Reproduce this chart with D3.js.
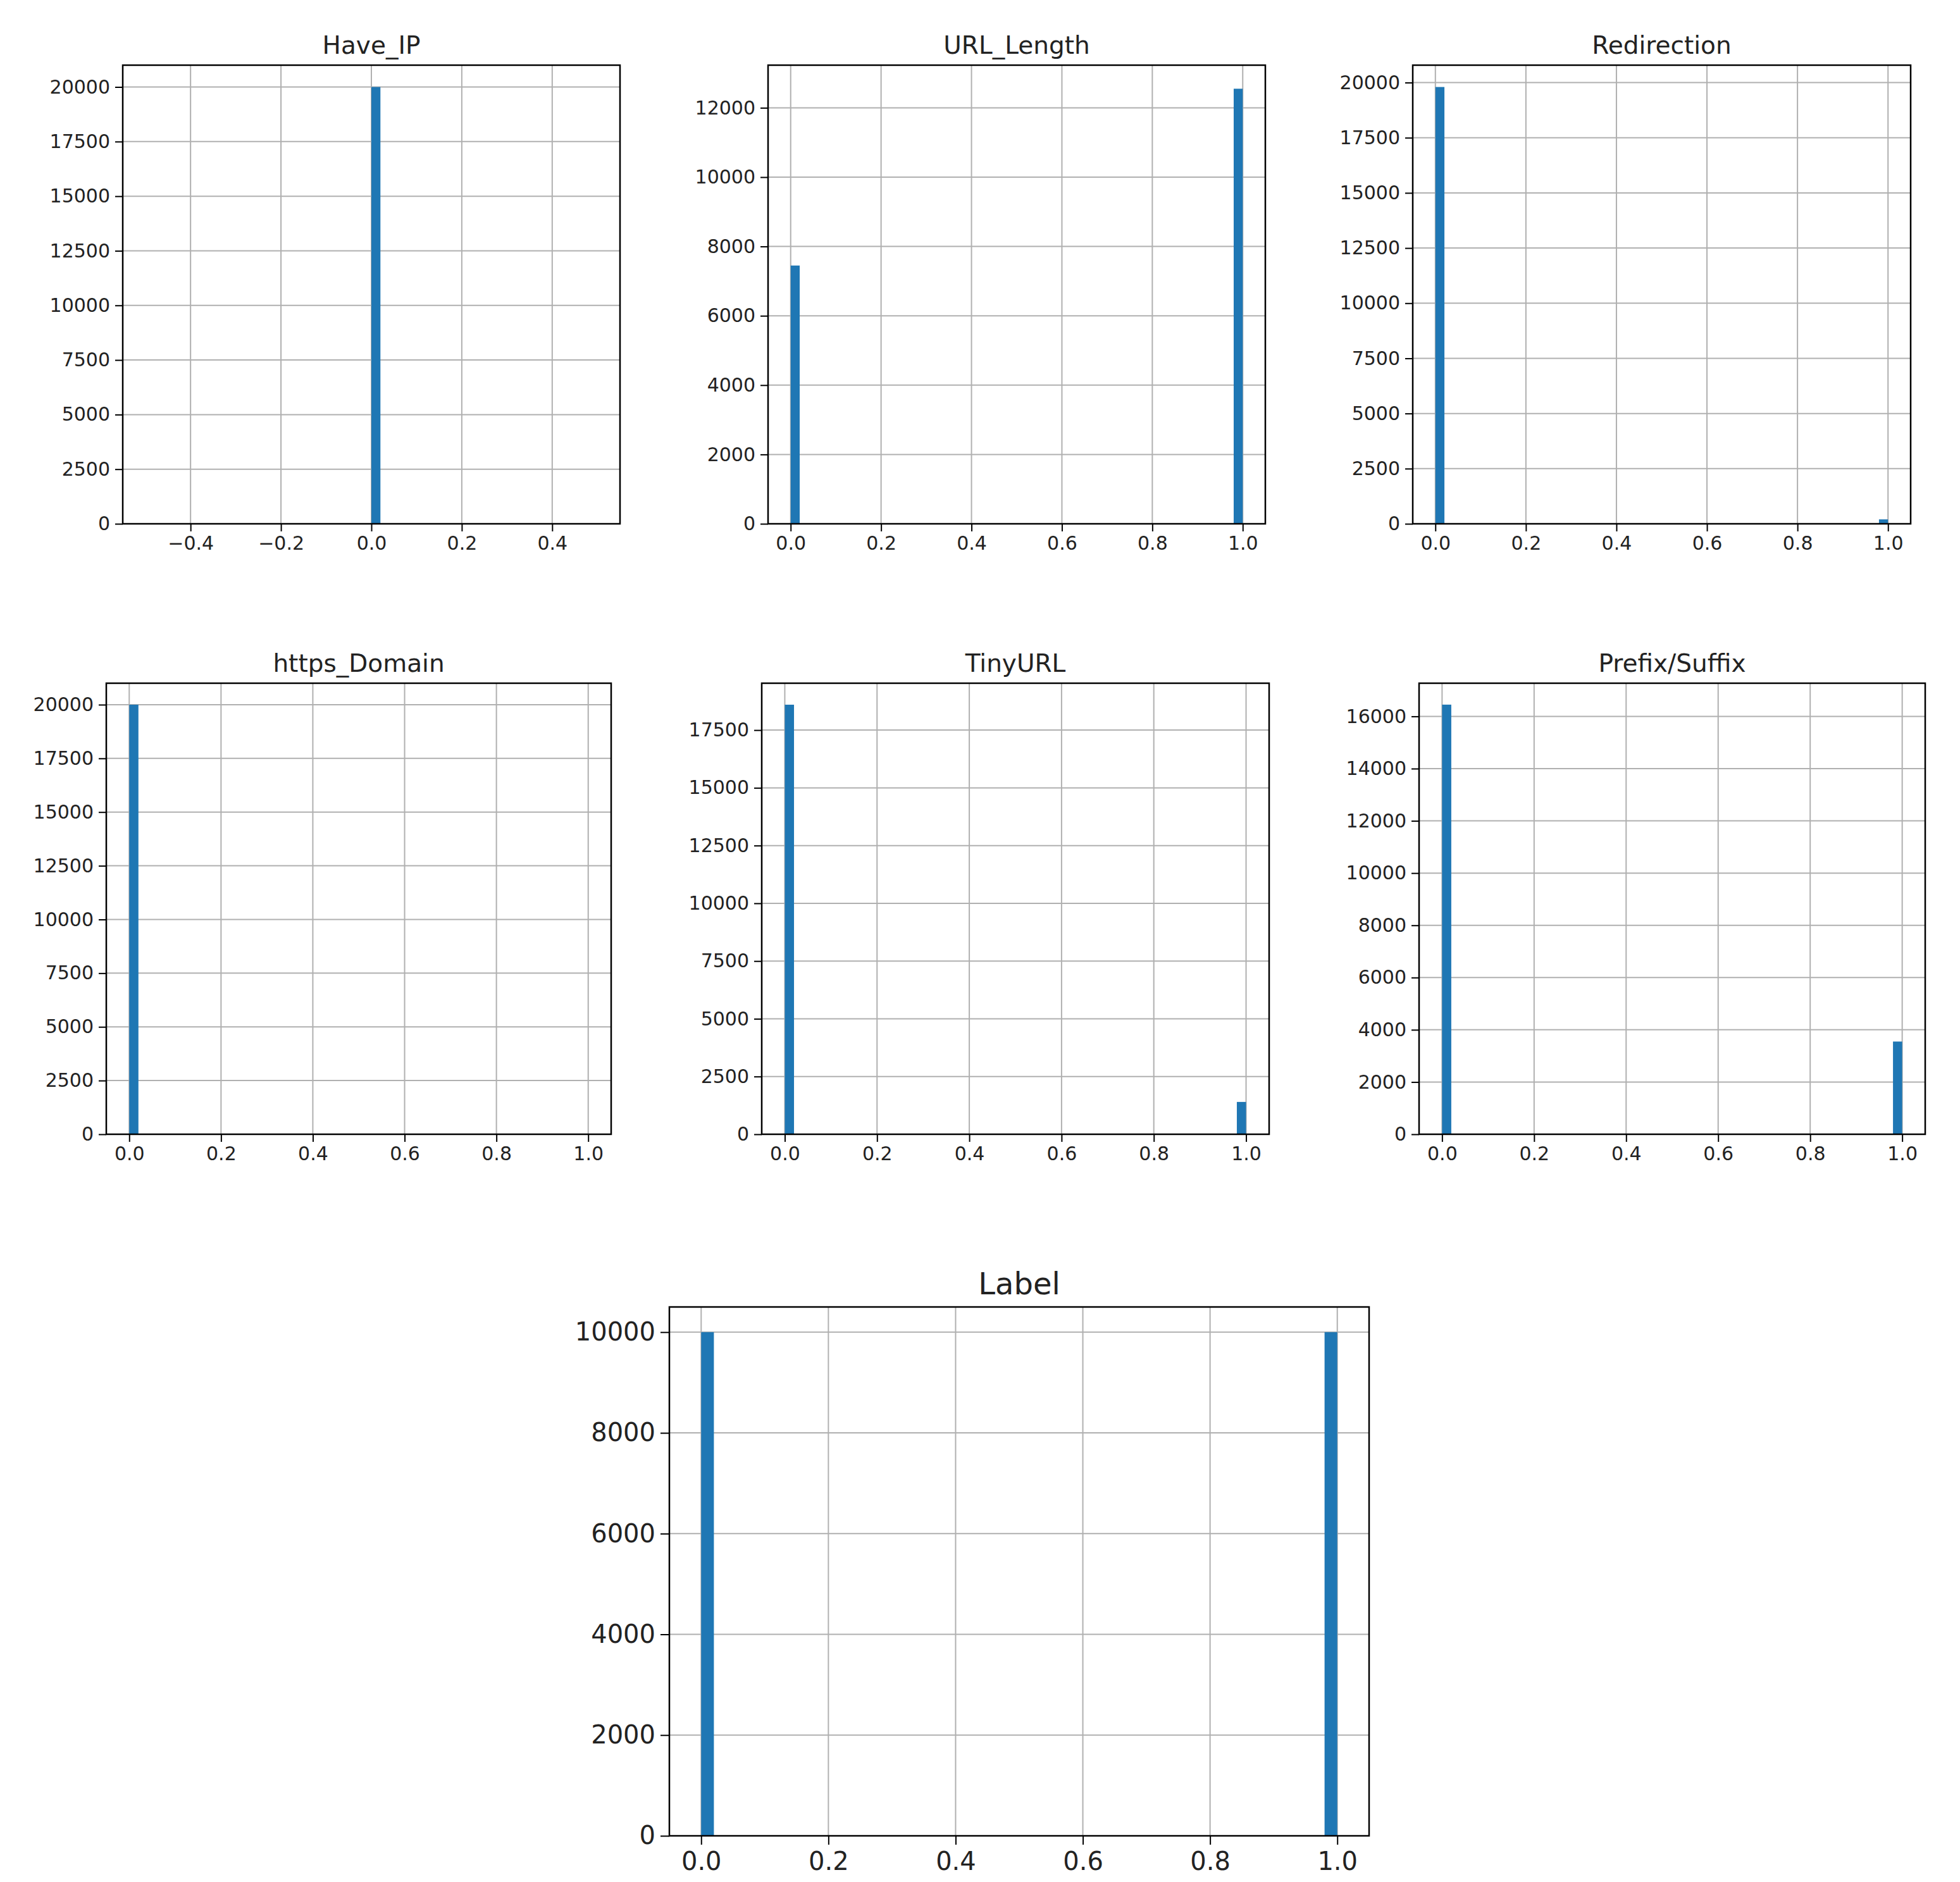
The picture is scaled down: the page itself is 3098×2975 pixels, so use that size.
<!DOCTYPE html><html><head><meta charset="utf-8"><script src="https://cdn.jsdelivr.net/npm/d3@7"></script>
<style>body{margin:0;background:#fff}</style></head><body><svg id="c" width="3098" height="2975"></svg><script>
const titles=["Have_IP","URL_Length","Redirection","https_Domain","TinyURL","Prefix/Suffix","Label"];
const binStarts=[[0],[0,0.98],[0,0.98],[0,0.98],[0,0.98],[0,0.98],[0,0.98]];
const counts=[[20000],[7450,12550],[19800,200],[20000,0],[18600,1400],[16450,3550],[10000,10000]];
const binWidth=[0.02,0.02,0.02,0.02,0.02,0.02,0.02];
const xTicks=[[-0.4,-0.2,0,0.2,0.4],[0,0.2,0.4,0.6,0.8,1],[0,0.2,0.4,0.6,0.8,1],[0,0.2,0.4,0.6,0.8,1],[0,0.2,0.4,0.6,0.8,1],[0,0.2,0.4,0.6,0.8,1],[0,0.2,0.4,0.6,0.8,1]];
const yTicks=[[0,2500,5000,7500,10000,12500,15000,17500,20000],[0,2000,4000,6000,8000,10000,12000],[0,2500,5000,7500,10000,12500,15000,17500,20000],[0,2500,5000,7500,10000,12500,15000,17500,20000],[0,2500,5000,7500,10000,12500,15000,17500],[0,2000,4000,6000,8000,10000,12000,14000,16000],[0,2000,4000,6000,8000,10000]];
const xDomains=[[-0.55,0.55],[-0.05,1.05],[-0.05,1.05],[-0.05,1.05],[-0.05,1.05],[-0.05,1.05],[-0.05,1.05]];
const yMax=[21000,13230,20790,21000,19530,17270,10500];
const boxes=[[194,980,103,828],[1214,2000,103,828],[2233,3020,103,828],[168,966,1080,1793],[1204,2006,1080,1793],[2243,3043,1080,1793],[1058,2164,2066,2902]];
const svg=d3.select("#c");
const font="DejaVu Sans";
titles.forEach((t,i)=>{
 const [x0,x1,y0,y1]=boxes[i]; const big=i===6;
 const fs=big?40:30, tfs=big?48:39, tl=big?14:12;
 const x=d3.scaleLinear().domain(xDomains[i]).range([x0,x1]);
 const y=d3.scaleLinear().domain([0,yMax[i]]).range([y1,y0]);
 const g=svg.append("g");
 g.append("g").selectAll("line").data(xTicks[i]).join("line").attr("x1",d=>x(d)).attr("x2",d=>x(d)).attr("y1",y0).attr("y2",y1).attr("stroke","#b0b0b0").attr("stroke-width",2);
 g.append("g").selectAll("line").data(yTicks[i]).join("line").attr("y1",d=>y(d)).attr("y2",d=>y(d)).attr("x1",x0).attr("x2",x1).attr("stroke","#b0b0b0").attr("stroke-width",2);
 g.append("g").selectAll("rect").data(counts[i].map((c,j)=>({s:binStarts[i][j],c}))).join("rect")
  .attr("x",d=>x(d.s)).attr("width",d=>x(d.s+binWidth[i])-x(d.s)).attr("y",d=>y(d.c)).attr("height",d=>y1-y(d.c)).attr("fill","#1f77b4");
 const xa=g.append("g").attr("transform",`translate(0,${y1})`).call(d3.axisBottom(x).tickValues(xTicks[i]).tickSize(tl).tickPadding(big?12:8).tickFormat(d=>d3.format(".1f")(d).replace("-","\u2212")));
 const ya=g.append("g").attr("transform",`translate(${x0},0)`).call(d3.axisLeft(y).tickValues(yTicks[i]).tickSize(tl).tickPadding(8).tickFormat(d3.format("d")));
 [xa,ya].forEach(a=>{a.select(".domain").remove();a.selectAll("line").attr("stroke","#000").attr("stroke-width",2);a.selectAll("text").attr("font-family",font).attr("font-size",fs).attr("fill","#222");});
 g.append("rect").attr("x",x0).attr("y",y0).attr("width",x1-x0).attr("height",y1-y0).attr("fill","none").attr("stroke","#000").attr("stroke-width",2.5);
 g.append("text").attr("x",(x0+x1)/2).attr("y",y0-(big?20:18)).attr("text-anchor","middle").attr("font-family",font).attr("font-size",tfs).attr("fill","#222").text(t);
});
</script></body></html>
